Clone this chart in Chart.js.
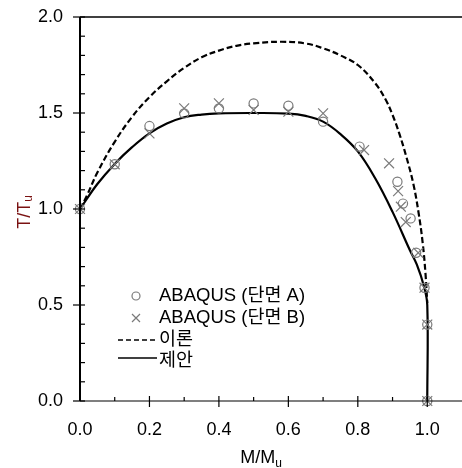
<!DOCTYPE html>
<html>
<head>
<meta charset="utf-8">
<script src="https://cdn.jsdelivr.net/npm/chart.js@4.4.1/dist/chart.umd.min.js"></script>
<style>
	html, body { margin: 0; padding: 0; background: #fff; }
	#wrap { width: 462px; height: 468px; position: relative; }
</style>
</head>
<body>
<div id="wrap"><canvas id="chart-torsion-moment"></canvas></div>
<script>
// Data (x = M/Mu, y = T/Tu)
const sectionA_M = [0, 0.1, 0.2, 0.3, 0.4, 0.5, 0.6, 0.7, 0.805, 0.914, 0.93, 0.952, 0.968, 0.992, 1.0, 1.0];
const sectionA_T = [1.0, 1.233, 1.432, 1.498, 1.524, 1.55, 1.538, 1.455, 1.325, 1.142, 1.028, 0.951, 0.772, 0.59, 0.398, 0.0];
const sectionB_M = [0, 0.1, 0.2, 0.3, 0.4, 0.5, 0.6, 0.7, 0.818, 0.89, 0.916, 0.924, 0.938, 0.974, 0.992, 1.0, 1.0];
const sectionB_T = [1.0, 1.233, 1.394, 1.524, 1.55, 1.516, 1.507, 1.498, 1.307, 1.238, 1.093, 1.012, 0.932, 0.772, 0.59, 0.398, 0.0];

const theory_M = [0, 0.02, 0.05, 0.1, 0.15, 0.2, 0.25, 0.3, 0.35, 0.4, 0.45, 0.5, 0.58, 0.65, 0.7, 0.75, 0.8, 0.85, 0.88, 0.9, 0.92, 0.94, 0.96, 0.975, 0.987, 0.995, 1.0];
const theory_T = [1.0, 1.07, 1.19, 1.35, 1.48, 1.583, 1.665, 1.735, 1.79, 1.825, 1.85, 1.863, 1.871, 1.862, 1.837, 1.8, 1.75, 1.655, 1.57, 1.49, 1.39, 1.27, 1.13, 0.98, 0.82, 0.66, 0.51];

const proposed_M = [0, 0.05, 0.1, 0.15, 0.2, 0.25, 0.3, 0.35, 0.4, 0.5, 0.6, 0.65, 0.7, 0.75, 0.8, 0.85, 0.9, 0.95, 0.97, 0.99, 1.0, 1.0];
const proposed_T = [1.0, 1.13, 1.235, 1.322, 1.394, 1.445, 1.478, 1.492, 1.498, 1.5, 1.497, 1.485, 1.455, 1.39, 1.3, 1.16, 0.985, 0.785, 0.71, 0.6, 0.5, 0.0];

const legendLabels = ["ABAQUS (단면 A)", "ABAQUS (단면 B)", "이론", "제안"];
const xTitle = ["M/M", "u"];
const yTitle = ["T/T", "u"];

const FONT = '"Liberation Sans", Arial, "Noto Sans CJK KR", sans-serif';
const GRAY = "#7a7a7a";

const toPoints = (xs, ys) => xs.map((x, i) => ({ x: x, y: ys[i] }));

Chart.defaults.font.family = FONT;
Chart.defaults.color = "#000";

//---------------------------------------------------------
// Axes, ticks, titles and legend
//---------------------------------------------------------
const framePlugin = {
	id: "frame",
	afterDraw(chart) {
		const { ctx, chartArea, scales } = chart;
		const { left, right, top, bottom } = chartArea;
		ctx.save();
		ctx.strokeStyle = "#000";

		// axis lines
		ctx.lineWidth = 2;
		ctx.beginPath();
		ctx.moveTo(left, top);
		ctx.lineTo(left, bottom);
		ctx.stroke();
		ctx.lineWidth = 1.5;
		ctx.beginPath();
		ctx.moveTo(left, top);
		ctx.lineTo(right + 2, top);
		ctx.stroke();
		ctx.lineWidth = 1.2;
		ctx.beginPath();
		ctx.moveTo(left, bottom);
		ctx.lineTo(right + 2, bottom);
		ctx.stroke();

		// tick marks
		ctx.lineWidth = 1.2;
		for (let i = 1; i <= 10; i++) {
			const px = scales.x.getPixelForValue(i / 10);
			const major = i % 2 === 0;
			ctx.beginPath();
			ctx.moveTo(px, bottom - (major ? 5 : 4));
			ctx.lineTo(px, bottom + (major ? 6 : 0));
			ctx.stroke();
		}
		for (let i = 0; i <= 20; i++) {
			const py = scales.y.getPixelForValue(i / 10);
			const major = i % 5 === 0;
			ctx.beginPath();
			ctx.moveTo(left - (major ? 7 : 0), py);
			ctx.lineTo(left + 5, py);
			ctx.stroke();
		}

		// axis titles with subscript
		ctx.fillStyle = "#000";
		ctx.textBaseline = "alphabetic";
		ctx.textAlign = "left";
		ctx.font = "18px " + FONT;
		let w1 = ctx.measureText(xTitle[0]).width;
		ctx.font = "12px " + FONT;
		let w2 = ctx.measureText(xTitle[1]).width;
		let x0 = 261 - (w1 + w2) / 2;
		ctx.font = "18px " + FONT;
		ctx.fillText(xTitle[0], x0, 463);
		ctx.font = "12px " + FONT;
		ctx.fillText(xTitle[1], x0 + w1, 467);

		ctx.save();
		ctx.translate(30, 212);
		ctx.rotate(-Math.PI / 2);
		ctx.fillStyle = "#7a1212";
		ctx.font = "18px " + FONT;
		w1 = ctx.measureText(yTitle[0]).width;
		ctx.font = "12px " + FONT;
		w2 = ctx.measureText(yTitle[1]).width;
		x0 = -(w1 + w2) / 2;
		ctx.font = "18px " + FONT;
		ctx.fillText(yTitle[0], x0, 0);
		ctx.font = "12px " + FONT;
		ctx.fillText(yTitle[1], x0 + w1, 2);
		ctx.restore();

		// legend
		const rows = [296, 318, 340, 361];
		const symX = 136;
		const textX = 159;
		ctx.strokeStyle = GRAY;
		ctx.lineWidth = 1.2;
		ctx.beginPath();
		ctx.arc(symX, rows[0], 4, 0, Math.PI * 2);
		ctx.stroke();
		ctx.beginPath();
		ctx.moveTo(symX - 4, rows[1] - 4);
		ctx.lineTo(symX + 4, rows[1] + 4);
		ctx.moveTo(symX - 4, rows[1] + 4);
		ctx.lineTo(symX + 4, rows[1] - 4);
		ctx.stroke();
		ctx.strokeStyle = "#000";
		ctx.lineWidth = 1.5;
		ctx.setLineDash([5, 3]);
		ctx.beginPath();
		ctx.moveTo(118, rows[2]);
		ctx.lineTo(157, rows[2]);
		ctx.stroke();
		ctx.setLineDash([]);
		ctx.beginPath();
		ctx.moveTo(118, rows[3] - 3);
		ctx.lineTo(157, rows[3] - 3);
		ctx.stroke();

		ctx.fillStyle = "#000";
		ctx.font = "18.5px " + FONT;
		ctx.textBaseline = "middle";
		legendLabels.forEach((t, i) => ctx.fillText(t, textX, rows[i]));
		ctx.restore();
	},
};

//---------------------------------------------------------
// Chart
//---------------------------------------------------------
const CHART_DATA = {
	datasets: [
		{
			label: legendLabels[0],
			data: toPoints(sectionA_M, sectionA_T),
			showLine: false,
			pointStyle: "circle",
			pointRadius: 4.6,
			pointBorderWidth: 1.2,
			pointBorderColor: GRAY,
			pointBackgroundColor: "rgba(0,0,0,0)",
			clip: false,
		},
		{
			label: legendLabels[1],
			data: toPoints(sectionB_M, sectionB_T),
			showLine: false,
			pointStyle: "crossRot",
			pointRadius: 7,
			pointBorderWidth: 1.2,
			pointBorderColor: GRAY,
			clip: false,
		},
		{
			label: legendLabels[2],
			data: toPoints(theory_M, theory_T),
			showLine: true,
			borderColor: "#000",
			borderWidth: 2.2,
			borderDash: [6, 3],
			tension: 0.4,
			pointRadius: 0,
			clip: false,
		},
		{
			label: legendLabels[3],
			data: toPoints(proposed_M, proposed_T),
			showLine: true,
			borderColor: "#000",
			borderWidth: 2.2,
			tension: 0.4,
			pointRadius: 0,
			clip: false,
		},
	],
};

const CHART_CONFIG = {
	type: "scatter",
	data: CHART_DATA,
	options: {
		responsive: true,
		maintainAspectRatio: false,
		animation: false,
		devicePixelRatio: 1,
		layout: {
			autoPadding: false,
			padding: { top: 17, right: -1, left: 0, bottom: 0 },
		},
		scales: {
			x: {
				type: "linear",
				min: 0,
				max: 1.1,
				border: { display: false },
				grid: { display: false, drawTicks: false },
				ticks: {
					stepSize: 0.2,
					includeBounds: false,
					autoSkip: false,
					maxRotation: 0,
					padding: 18,
					color: "#000",
					font: { size: 18 },
					callback: (v) => v.toFixed(1),
				},
				afterFit: (scale) => {
					scale.height = 67;
					scale.paddingLeft = 0;
					scale.paddingRight = 0;
				},
			},
			y: {
				type: "linear",
				min: 0,
				max: 2,
				border: { display: false },
				grid: { display: false, drawTicks: false },
				ticks: {
					stepSize: 0.5,
					padding: 17,
					color: "#000",
					font: { size: 18 },
					callback: (v) => v.toFixed(1),
				},
				afterFit: (scale) => {
					scale.width = 80;
					scale.paddingTop = 0;
					scale.paddingBottom = 0;
				},
			},
		},
		plugins: {
			legend: { display: false },
			tooltip: { enabled: false },
		},
	},
	plugins: [framePlugin],
};

const CHART_WRAPPER = document.getElementById("chart-torsion-moment");
if (CHART_WRAPPER) {
	new Chart(CHART_WRAPPER, CHART_CONFIG);
}
</script>
</body>
</html>
